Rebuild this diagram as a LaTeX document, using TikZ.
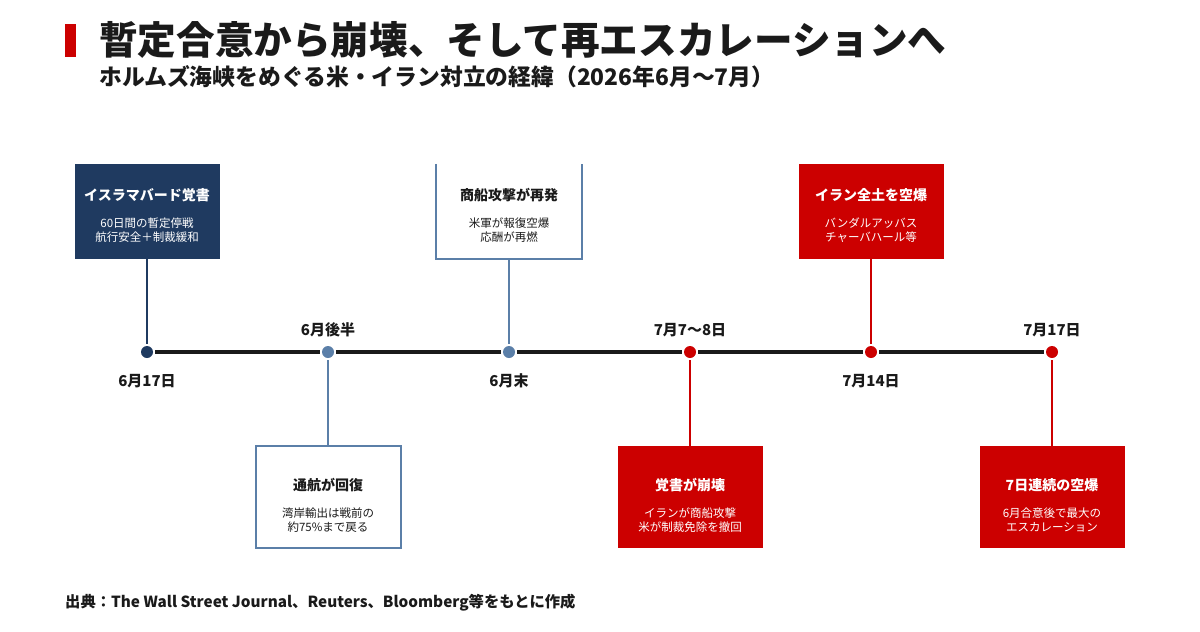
\documentclass[tikz,border=0pt]{standalone}
\usepackage{fontspec}
\setmainfont{Noto Sans CJK JP}
\definecolor{navy}{HTML}{1F3A60}
\definecolor{steel}{HTML}{5B7FA8}
\definecolor{alert}{HTML}{CC0000}
\definecolor{ink}{HTML}{1A1A1A}

\begin{document}
\begin{tikzpicture}[x=1pt,y=-1pt,
  box/.style={rectangle,minimum width=145pt,minimum height=95pt,inner sep=0pt},
  lowbox/.style={box,minimum height=102pt},
  head/.style={inner sep=0pt,font=\fontsize{14}{16}\selectfont\bfseries},
  sub/.style={inner sep=0pt,align=center,font=\fontsize{11.5}{14.5}\selectfont},
  dot/.style={circle,inner sep=0pt,minimum size=12pt,outer sep=2pt},
  date/.style={inner sep=0pt,text=ink,font=\fontsize{15}{17}\selectfont\bfseries},
  stem/.style={line width=2pt}]
\useasboundingbox (0,0) rectangle (1200,632);
\fill[white] (0,0) rectangle (1200,632);
% heading
\node[fill=alert,minimum width=11pt,minimum height=33pt,inner sep=0pt] (bar) at (70.5,40.5) {};
\node[anchor=west,inner sep=0pt,text=ink,font=\fontsize{38.6}{40}\selectfont\bfseries] (title) at (99,40) {暫定合意から崩壊、そして再エスカレーションへ};
\node[anchor=west,inner sep=0pt,text=ink,font=\fontsize{22.8}{24}\selectfont\bfseries] (subtitle) at (99,77) {ホルムズ海峡をめぐる米・イラン対立の経緯（2026年6月～7月）};

% timeline
\node[dot,fill=navy] (d1) at (147,352) {};
\node[dot,fill=steel] (d2) at (328,352) {};
\node[dot,fill=steel] (d3) at (509,352) {};
\node[dot,fill=alert] (d4) at (690,352) {};
\node[dot,fill=alert] (d5) at (871,352) {};
\node[dot,fill=alert] (d6) at (1052,352) {};
\draw[line width=4pt,ink] (d1) -- (d2) (d2) -- (d3) (d3) -- (d4) (d4) -- (d5) (d5) -- (d6);

\node[date] (t1) at (147,381) {6月17日};
\node[date] (t2) at (328,330) {6月後半};
\node[date] (t3) at (509,381) {6月末};
\node[date] (t4) at (690,330) {7月7～8日};
\node[date] (t5) at (871,381) {7月14日};
\node[date] (t6) at (1052,330) {7月17日};

% upper boxes
\node[box,fill=navy] (b1) at (147,211.5) {};
\node[head,text=white] (h1) at (147,195) {イスラマバード覚書};
\node[sub,text=white] (s1) at (147,230) {60日間の暫定停戦\\航行安全＋制裁緩和};
\draw[stem,navy] (b1) -- (d1);

\node[box] (b3) at (509,211.5) {};
\draw[stem,steel] (b3.north west) -- (b3.south west) -- (b3.south east) -- (b3.north east);
\node[head,text=ink] (h3) at (509,195) {商船攻撃が再発};
\node[sub,text=ink] (s3) at (509,230) {米軍が報復空爆\\応酬が再燃};
\draw[stem,steel] (b3.south) -- (d3);

\node[box,fill=alert] (b5) at (871,211.5) {};
\node[head,text=white] (h5) at (871,195) {イラン全土を空爆};
\node[sub,text=white] (s5) at (871,230) {バンダルアッバス\\チャーバハール等};
\draw[stem,alert] (b5) -- (d5);

% lower boxes
\node[lowbox,draw=steel,line width=2pt,fill=white] (b2) at (328,497) {};
\node[head,text=ink] (h2) at (328,485) {通航が回復};
\node[sub,text=ink] (s2) at (328,520) {湾岸輸出は戦前の\\約75\%まで戻る};
\draw[stem,steel] (d2) -- (b2);

\node[lowbox,fill=alert] (b4) at (690,497) {};
\node[head,text=white] (h4) at (690,485) {覚書が崩壊};
\node[sub,text=white] (s4) at (690,520) {イランが商船攻撃\\米が制裁免除を撤回};
\draw[stem,alert] (d4) -- (b4);

\node[lowbox,fill=alert] (b6) at (1052,497) {};
\node[head,text=white] (h6) at (1052,485) {7日連続の空爆};
\node[sub,text=white] (s6) at (1052,520) {6月合意後で最大の\\エスカレーション};
\draw[stem,alert] (d6) -- (b6);

% source
\node[anchor=west,inner sep=0pt,text=ink,font=\fontsize{15.3}{17}\selectfont\bfseries] (source) at (65,603) {出典：The Wall Street Journal、Reuters、Bloomberg等をもとに作成};
\end{tikzpicture}
\end{document}
